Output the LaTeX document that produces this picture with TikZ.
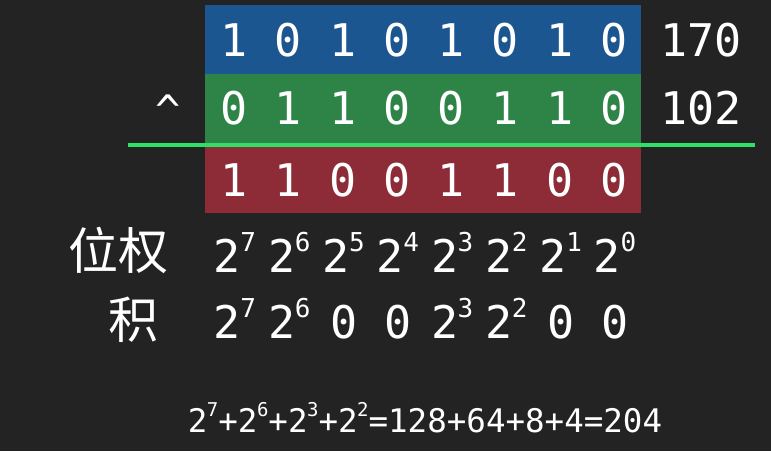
\documentclass[tikz,border=0pt]{standalone}
\usepackage{fontspec}
\setmonofont{DejaVu Sans Mono}
\newfontfamily\cjk{Noto Sans CJK SC}
\usetikzlibrary{positioning}
\definecolor{bg}{HTML}{232323}
\definecolor{rowa}{HTML}{1C5690}
\definecolor{rowb}{HTML}{2D8446}
\definecolor{rowc}{HTML}{8D2B36}
\definecolor{rulecol}{HTML}{2FE067}
\tikzset{
  band/.style={minimum width=436pt,minimum height=69pt,inner sep=0pt},
  bit/.style={font=\fontsize{45}{45}\selectfont\ttfamily,text=white,inner sep=0pt,anchor=base},
  side/.style={font=\fontsize{45}{45}\selectfont\ttfamily,text=white,inner sep=0pt,anchor=base west},
  hanzi/.style={font=\fontsize{50}{50}\selectfont\cjk,text=white,inner sep=0pt},
  sumtext/.style={font=\fontsize{32.5}{32.5}\selectfont\ttfamily,text=white,inner sep=0pt,anchor=base}
}
\newcommand\pw[1]{2\kern-0.5pt\raisebox{0.85ex}{\fontsize{26}{26}\selectfont#1}}
\newcommand\spw[1]{2\kern-0.5pt\raisebox{0.85ex}{\fontsize{19}{19}\selectfont#1}}

\begin{document}
\begin{tikzpicture}[x=1pt,y=-1pt]
\useasboundingbox[fill=bg] (0,0) rectangle (771,451);
% coloured rows
\node[band,fill=rowa] (bandA) at (423,39.5) {};
\node[band,fill=rowb] (bandB) at (423,108.5) {};
\node[band,fill=rowc] (bandC) at (423,178.5) {};
% bits of both operands and of the result
\foreach \j/\a/\b/\c in {0/1/0/1,1/0/1/1,2/1/1/0,3/0/0/0,4/1/0/1,5/0/1/1,6/1/1/0,7/0/0/0}{
  \node[bit] (a\j) at (234+54.3*\j,56) {\a};
  \node[bit] (b\j) at (234+54.3*\j,124) {\b};
  \node[bit] (c\j) at (234+54.3*\j,196) {\c};
}
\node[side] (va) at (660,56) {170};
\node[side] (vb) at (660,124) {102};
\node[font=\fontsize{42}{42}\selectfont\ttfamily,text=white] (op) at (168,110) {\textasciicircum};
% rule under the operands
\coordinate (ruleL) at (128,145);
\coordinate (ruleR) at (755,145);
\draw[rulecol,line width=4pt] (ruleL) -- (ruleR);
% weights and products
\node[hanzi] (wlabel) at (118,250) {位权};
\node[hanzi] (plabel) at (133,320) {积};
\foreach \j/\e/\p in {0/7/\pw{7},1/6/\pw{6},2/5/0,3/4/0,4/3/\pw{3},5/2/\pw{2},6/1/0,7/0/0}{
  \node[bit] (w\j) at (235+54.3*\j,272) {\pw{\e}};
  \node[bit] (p\j) at (235+54.3*\j,338) {\p};
}
\node[sumtext] (total) at (425,432) {\spw{7}+\spw{6}+\spw{3}+\spw{2}=128+64+8+4=204};
\end{tikzpicture}
\end{document}
